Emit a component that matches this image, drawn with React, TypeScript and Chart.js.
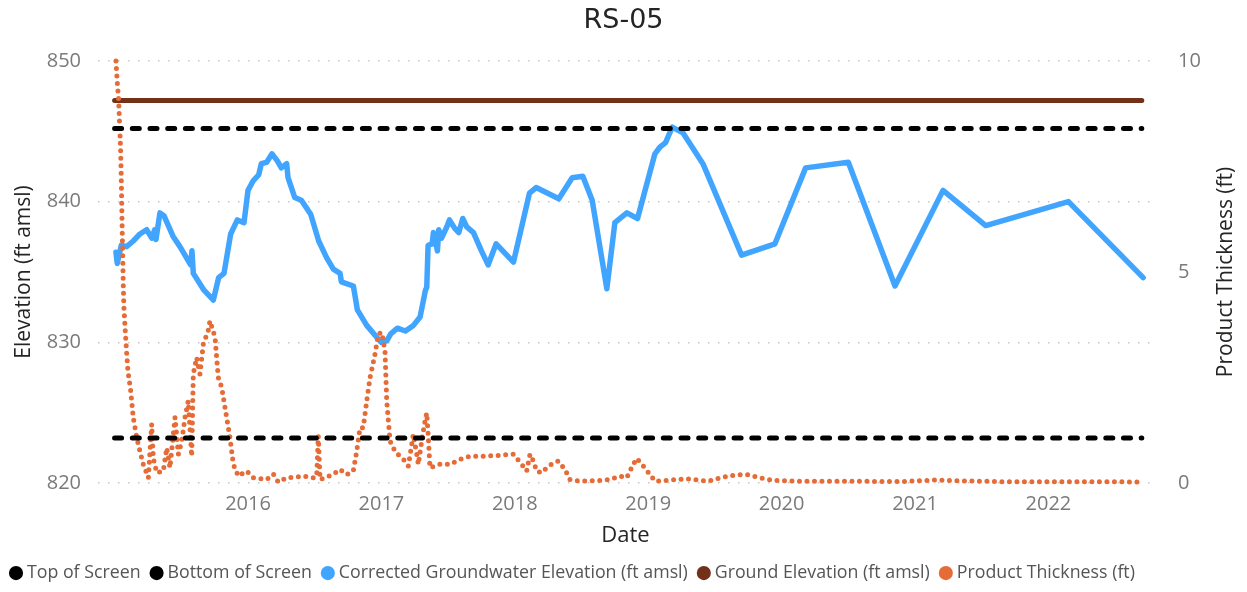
import React, { useEffect, useRef } from 'react';
import { Chart, registerables } from 'chart.js';

Chart.register(...registerables);

// ---------- data ----------
const yearTicks = [2016, 2017, 2018, 2019, 2020, 2021, 2022];
const elevationTicks = [820, 830, 840, 850];
const thicknessTicks = [0, 5, 10];

const gwYears = [
  2015.01, 2015.02, 2015.05, 2015.09, 2015.14, 2015.19, 2015.24, 2015.28, 2015.30, 2015.31,
  2015.34, 2015.37, 2015.44, 2015.49, 2015.57, 2015.58, 2015.59, 2015.67, 2015.73, 2015.74,
  2015.78, 2015.82, 2015.87, 2015.92, 2015.97, 2016.00, 2016.04, 2016.08, 2016.10, 2016.14,
  2016.18, 2016.22, 2016.25, 2016.29, 2016.30, 2016.35, 2016.40, 2016.47, 2016.53, 2016.59,
  2016.64, 2016.69, 2016.70, 2016.79, 2016.82, 2016.89, 2016.97, 2017.00, 2017.04, 2017.07,
  2017.12, 2017.18, 2017.24, 2017.29, 2017.33, 2017.34, 2017.35, 2017.38, 2017.39, 2017.42,
  2017.43, 2017.45, 2017.49, 2017.51, 2017.55, 2017.58, 2017.61, 2017.64, 2017.69, 2017.75,
  2017.80, 2017.86, 2017.99, 2018.11, 2018.16, 2018.33, 2018.43, 2018.51, 2018.58, 2018.69,
  2018.75, 2018.84, 2018.92, 2019.05, 2019.09, 2019.13, 2019.18, 2019.26, 2019.41, 2019.70,
  2019.95, 2020.18, 2020.50, 2020.85, 2021.21, 2021.53, 2022.15, 2022.71,
];
const gwElevation = [
  836.4, 835.6, 836.9, 836.8, 837.2, 837.7, 838.0, 837.4, 838.0, 837.3,
  839.2, 839.0, 837.5, 836.8, 835.5, 836.5, 834.9, 833.7, 833.1, 833.0,
  834.6, 834.9, 837.7, 838.7, 838.5, 840.8, 841.5, 841.9, 842.7, 842.8,
  843.4, 842.9, 842.4, 842.7, 841.7, 840.3, 840.1, 839.1, 837.2, 836.0,
  835.2, 834.9, 834.3, 834.0, 832.3, 831.2, 830.3, 830.0, 830.1, 830.6,
  831.0, 830.8, 831.2, 831.8, 833.7, 833.9, 836.9, 837.0, 837.8, 836.5,
  838.0, 837.4, 838.2, 838.7, 838.1, 837.8, 838.8, 838.2, 837.8, 836.5,
  835.5, 837.0, 835.7, 840.6, 841.0, 840.2, 841.7, 841.8, 840.1, 833.8,
  838.5, 839.2, 838.8, 843.4, 843.9, 844.2, 845.3, 844.9, 842.7, 836.2,
  837.0, 842.4, 842.8, 834.0, 840.8, 838.3, 840.0, 834.6,
];

const ptYears = [
  2015.01, 2015.02, 2015.03, 2015.045, 2015.05, 2015.053, 2015.056, 2015.06, 2015.065, 2015.07,
  2015.078, 2015.09, 2015.10, 2015.12, 2015.14, 2015.166, 2015.19, 2015.215, 2015.253, 2015.278,
  2015.29, 2015.316, 2015.365, 2015.391, 2015.415, 2015.453, 2015.478, 2015.503, 2015.528, 2015.552,
  2015.578, 2015.59, 2015.615, 2015.64, 2015.665, 2015.702, 2015.715, 2015.753, 2015.765, 2015.777,
  2015.803, 2015.84, 2015.865, 2015.89, 2015.927, 2015.99, 2016.04, 2016.14, 2016.19, 2016.227,
  2016.29, 2016.415, 2016.49, 2016.515, 2016.527, 2016.54, 2016.639, 2016.69, 2016.74, 2016.789,
  2016.815, 2016.84, 2016.864, 2016.89, 2016.915, 2016.952, 2016.977, 2017.002, 2017.027, 2017.04,
  2017.065, 2017.102, 2017.139, 2017.177, 2017.202, 2017.239, 2017.265, 2017.277, 2017.302, 2017.327,
  2017.34, 2017.352, 2017.364, 2017.439, 2017.514, 2017.589, 2017.664, 2017.764, 2017.914, 2017.989,
  2018.052, 2018.089, 2018.114, 2018.139, 2018.164, 2018.202, 2018.251, 2018.326, 2018.376, 2018.414,
  2018.489, 2018.639, 2018.714, 2018.789, 2018.839, 2018.888, 2018.914, 2018.963, 2019.013, 2019.051,
  2019.139, 2019.289, 2019.389, 2019.451, 2019.539, 2019.638, 2019.738, 2019.838, 2019.938, 2020.138,
  2020.488, 2020.887, 2021.163, 2021.337, 2021.637, 2022.387, 2022.70,
];
const ptThickness = [
  10.0, 9.5, 9.1, 7.9, 7.25, 6.7, 6.15, 5.5, 4.7, 4.15,
  3.7, 3.1, 2.65, 2.2, 1.55, 1.07, 0.75, 0.44, 0.12, 1.39,
  0.59, 0.24, 0.28, 0.83, 0.36, 1.55, 0.68, 0.99, 1.55, 1.94,
  0.63, 2.58, 2.97, 2.58, 3.29, 3.61, 3.84, 3.45, 2.97, 2.50,
  2.26, 1.55, 1.07, 0.44, 0.16, 0.28, 0.12, 0.08, 0.21, 0.02,
  0.12, 0.16, 0.12, 0.15, 1.11, 0.08, 0.20, 0.32, 0.20, 0.28,
  0.75, 1.31, 1.31, 1.94, 2.50, 3.05, 3.53, 3.57, 3.13, 1.94,
  0.99, 0.75, 0.63, 0.52, 0.40, 1.15, 0.68, 0.44, 0.99, 1.47,
  1.66, 1.07, 0.36, 0.44, 0.44, 0.56, 0.63, 0.63, 0.66, 0.68,
  0.44, 0.28, 0.68, 0.52, 0.28, 0.24, 0.40, 0.52, 0.32, 0.08,
  0.04, 0.06, 0.08, 0.16, 0.12, 0.44, 0.58, 0.40, 0.20, 0.04,
  0.06, 0.10, 0.06, 0.04, 0.12, 0.18, 0.20, 0.12, 0.06, 0.04,
  0.04, 0.03, 0.07, 0.05, 0.03, 0.03, 0.02,
];

const refLineYears = [2015.0, 2022.7];
const topOfScreen = 845.2;
const bottomOfScreen = 823.2;
const groundElevation = 847.2;

// ---------- styling ----------
const BLUE = '#41A5FF';
const ORANGE = '#E66C37';
const BROWN = '#72321A';
const BLACK = '#000000';
const legendColors = [BLACK, BLACK, BLUE, BROWN, ORANGE];
const TICK_COLOR = '#7a7a7a';
const TITLE_COLOR = '#252423';
const FONT = '"Open Sans", "Segoe UI", sans-serif';

const rightTitlePlugin = {
  id: 'rightTitle',
  afterDraw(chart: any) {
    const { ctx, chartArea } = chart;
    ctx.save();
    ctx.font = `21px ${FONT}`;
    ctx.fillStyle = TITLE_COLOR;
    ctx.textAlign = 'center';
    ctx.textBaseline = 'middle';
    ctx.translate(chart.width - 21, (chartArea.top + chartArea.bottom) / 2);
    ctx.rotate(-Math.PI / 2);
    ctx.fillText('Product Thickness (ft)', 0, 0);
    ctx.restore();
  },
};

export default function App() {
  const canvasRef = useRef<HTMLCanvasElement | null>(null);

  useEffect(() => {
    if (!canvasRef.current) return;
    const refLine = (v: number) => refLineYears.map((x) => ({ x, y: v }));
    const chart = new Chart(canvasRef.current, {
      type: 'line',
      data: {
        datasets: [
          {
            label: 'Top of Screen',
            data: refLine(topOfScreen),
            borderColor: BLACK,
            backgroundColor: BLACK,
            borderWidth: 5,
            borderDash: [7, 10.7],
            borderCapStyle: 'round',
            pointRadius: 0,
            yAxisID: 'y',
            order: 0,
          },
          {
            label: 'Bottom of Screen',
            data: refLine(bottomOfScreen),
            borderColor: BLACK,
            backgroundColor: BLACK,
            borderWidth: 5,
            borderDash: [7, 10.7],
            borderCapStyle: 'round',
            pointRadius: 0,
            yAxisID: 'y',
            order: 0,
          },
          {
            label: 'Corrected Groundwater Elevation (ft amsl)',
            data: gwYears.map((x, i) => ({ x, y: gwElevation[i] })),
            borderColor: BLUE,
            backgroundColor: BLUE,
            borderWidth: 5.5,
            borderJoinStyle: 'round',
            borderCapStyle: 'round',
            pointRadius: 0,
            yAxisID: 'y',
            order: 2,
          },
          {
            label: 'Ground Elevation (ft amsl)',
            data: refLine(groundElevation),
            borderColor: BROWN,
            backgroundColor: BROWN,
            borderWidth: 5,
            borderCapStyle: 'round',
            pointRadius: 0,
            yAxisID: 'y',
            order: 3,
          },
          {
            label: 'Product Thickness (ft)',
            data: ptYears.map((x, i) => ({ x, y: ptThickness[i] })),
            borderColor: ORANGE,
            backgroundColor: ORANGE,
            borderWidth: 5,
            borderDash: [0, 7.5],
            borderCapStyle: 'round',
            pointRadius: 0,
            yAxisID: 'y1',
            order: 1,
            clip: false,
          },
        ] as any,
      },
      options: {
        animation: false,
        responsive: false,
        maintainAspectRatio: false,
        layout: { padding: 0 },
        scales: {
          x: {
            type: 'linear',
            min: 2014.8756,
            max: 2022.784,
            afterBuildTicks: (s: any) => {
              s.ticks = yearTicks.map((v) => ({ value: v }));
            },
            afterFit: (s: any) => {
              s.height = 67.3;
            },
            ticks: {
              callback: (v: any) => String(v),
              color: TICK_COLOR,
              font: { family: FONT, size: 20 },
              padding: 9,
              maxRotation: 0,
              autoSkip: false,
            },
            grid: { display: false, drawTicks: false },
            border: { display: false },
            title: {
              display: true,
              text: 'Date',
              color: TITLE_COLOR,
              font: { family: FONT, size: 22 },
              padding: { top: 0, bottom: 1 },
            },
          },
          y: {
            type: 'linear',
            position: 'left',
            min: 820,
            max: 850,
            afterBuildTicks: (s: any) => {
              s.ticks = elevationTicks.map((v) => ({ value: v }));
            },
            afterFit: (s: any) => {
              s.width = 98;
            },
            ticks: {
              color: TICK_COLOR,
              font: { family: FONT, size: 20 },
              padding: 17,
            },
            grid: { color: '#c8c8c8', lineWidth: 1.5, drawTicks: false },
            border: { display: false, dash: [1.5, 8.5] },
            title: {
              display: true,
              text: 'Elevation (ft amsl)',
              color: TITLE_COLOR,
              font: { family: FONT, size: 21 },
              padding: { top: 11, bottom: 0 },
            },
          },
          y1: {
            type: 'linear',
            position: 'right',
            min: 0,
            max: 10,
            afterBuildTicks: (s: any) => {
              s.ticks = thicknessTicks.map((v) => ({ value: v }));
            },
            afterFit: (s: any) => {
              s.width = 94;
            },
            ticks: {
              color: TICK_COLOR,
              font: { family: FONT, size: 20 },
              padding: 25,
            },
            grid: { display: false, drawTicks: false },
            border: { display: false },
          },
        },
        plugins: {
          title: {
            display: true,
            text: 'RS-05',
            color: TITLE_COLOR,
            font: { family: '"DejaVu Sans", sans-serif', size: 27, weight: 'normal' },
            padding: { top: 5, bottom: 23.6 },
          },
          legend: {
            display: true,
            position: 'bottom',
            align: 'start',
            labels: {
              usePointStyle: true,
              boxWidth: 4,
              boxHeight: 10,
              padding: 14,
              color: '#555555',
              font: { family: FONT, size: 17.8 },
              generateLabels: (ch: any) =>
                ch.data.datasets.map((ds: any, i: number) => ({
                  text: ds.label,
                  fillStyle: legendColors[i],
                  strokeStyle: legendColors[i],
                  lineWidth: 0,
                  lineDash: [],
                  pointStyle: 'circle',
                  hidden: false,
                  datasetIndex: i,
                  fontColor: '#555555',
                })),
            },
          },
          tooltip: { enabled: false },
        },
      } as any,
      plugins: [rightTitlePlugin],
    });
    return () => chart.destroy();
  }, []);

  return (
    <div style={{ position: 'fixed', left: 0, top: 0, width: 1247, height: 592, background: '#fff' }}>
      <canvas ref={canvasRef} width={1247} height={592} />
    </div>
  );
}
